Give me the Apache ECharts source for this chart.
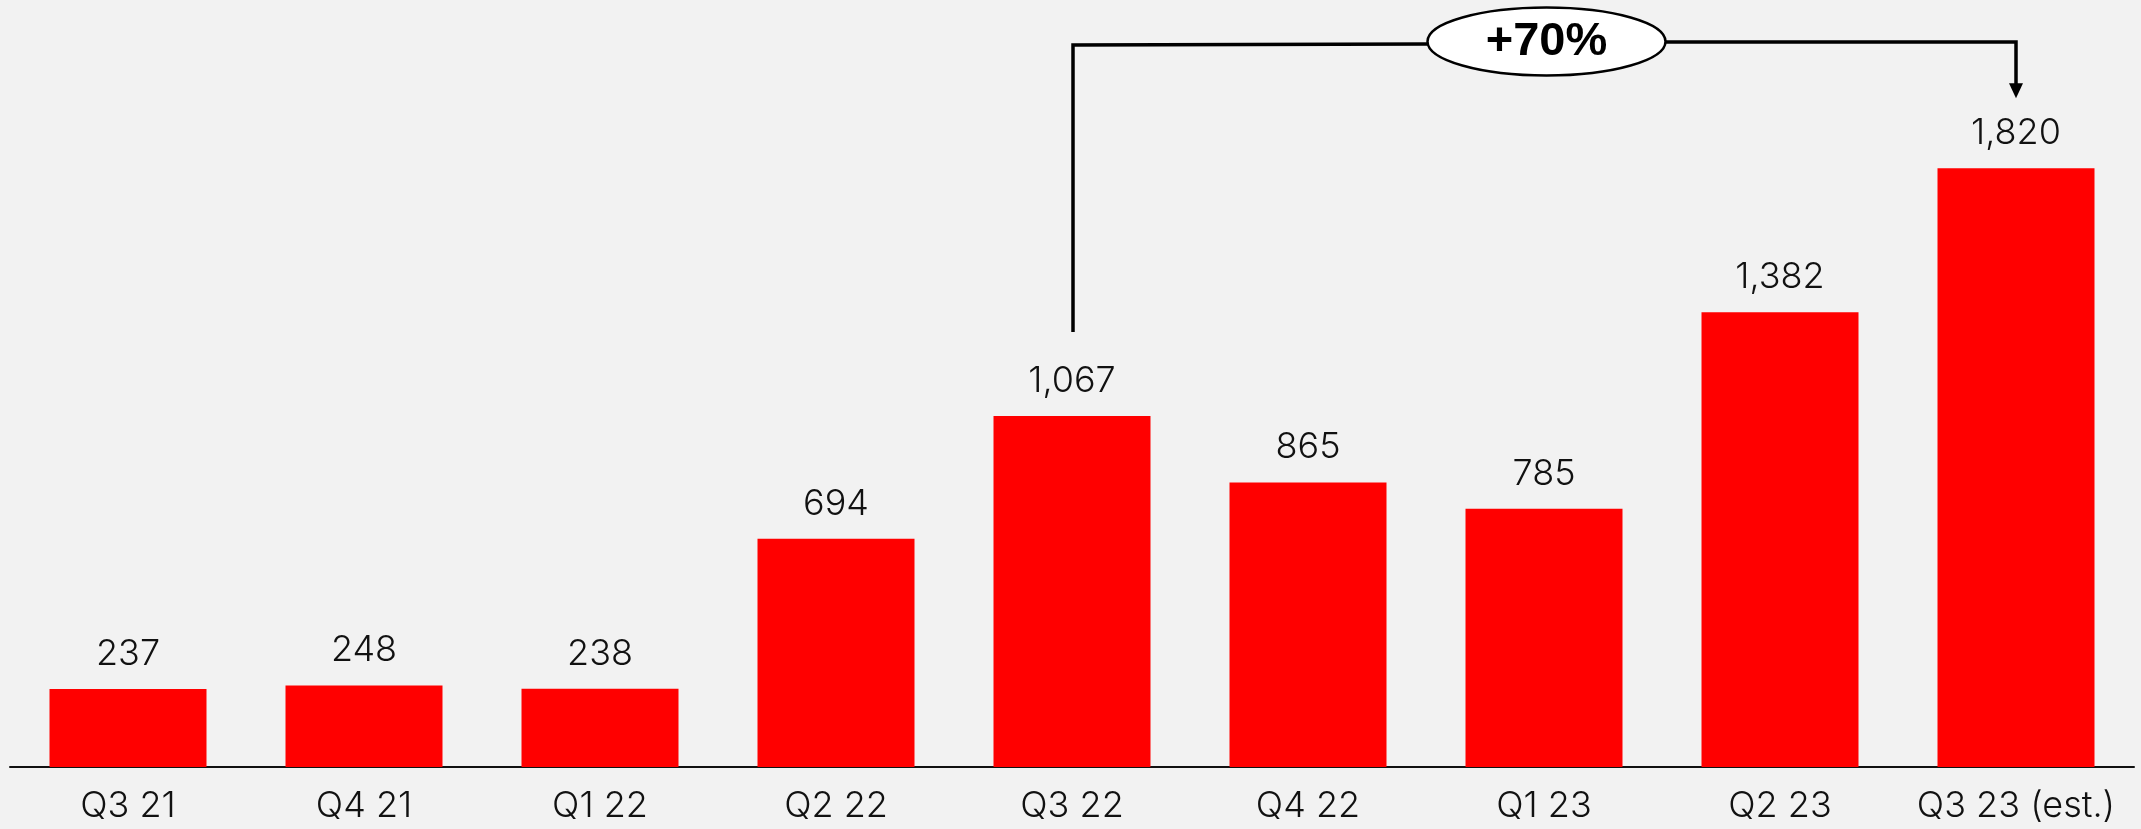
<!DOCTYPE html>
<html>
<head>
<meta charset="utf-8">
<script src="https://cdn.jsdelivr.net/npm/echarts@6/dist/echarts.min.js"></script>
<style>
  html, body { margin: 0; padding: 0; background: #f2f2f2; }
  #chart { width: 2141px; height: 829px; }
</style>
</head>
<body>
<div id="chart"></div>
<script>
// Quarterly values (thousands), last quarter is an estimate
const quarters = ['Q3 21', 'Q4 21', 'Q1 22', 'Q2 22', 'Q3 22', 'Q4 22', 'Q1 23', 'Q2 23', 'Q3 23 (est.)'];
const values = [237, 248, 238, 694, 1067, 865, 785, 1382, 1820];
// Growth callout: from Q3 22 to Q3 23
const growthFrom = 'Q3 22';
const growthTo = 'Q3 23 (est.)';
const growthText = '+70%';

const chart = echarts.init(document.getElementById('chart'), null, { renderer: 'canvas' });

const fmt = v => v.toLocaleString('en-US');

chart.setOption({
  backgroundColor: '#f2f2f2',
  animation: false,
  grid: { left: 10, right: 7, top: 109, bottom: 62, containLabel: false },
  xAxis: {
    type: 'category',
    data: quarters,
    axisLine: { show: true, lineStyle: { color: '#111', width: 2 } },
    axisTick: { show: false },
    axisLabel: {
      interval: 0,
      color: '#111',
      fontFamily: 'Inter',
      fontWeight: 300,
      fontSize: 36,
      margin: 21
    }
  },
  yAxis: {
    type: 'value',
    min: 0,
    max: 2000,
    show: false,
    splitLine: { show: false }
  },
  series: [{
    type: 'bar',
    data: values,
    barWidth: 157,
    itemStyle: { color: '#ff0000' },
    label: {
      show: true,
      position: 'top',
      distance: 17,
      color: '#111',
      fontFamily: 'Inter',
      fontWeight: 300,
      fontSize: 36,
      formatter: p => fmt(p.value)
    }
  }]
});

// Bracket callout linking the two compared bars
const iFrom = quarters.indexOf(growthFrom);
const iTo = quarters.indexOf(growthTo);
const pFrom = chart.convertToPixel({ gridIndex: 0 }, [iFrom, values[iFrom]]);
const pTo = chart.convertToPixel({ gridIndex: 0 }, [iTo, values[iTo]]);

const yLineL = 45;
const yLineR = 42;
const xL = pFrom[0] + 1;
const xR = pTo[0];
const leftBottom = pFrom[1] - 84;
const arrowTip = pTo[1] - 70;
const cx = (xL + xR) / 2 + 2;
const cy = 41.5;
const rx = 119, ry = 34;

chart.setOption({
  graphic: [
    {
      type: 'polyline',
      shape: { points: [[xL, leftBottom], [xL, yLineL], [cx - rx, yLineL - 1]] },
      style: { stroke: '#000', lineWidth: 3.5, fill: null }
    },
    {
      type: 'polyline',
      shape: { points: [[cx + rx, yLineR], [xR, yLineR], [xR, arrowTip - 12]] },
      style: { stroke: '#000', lineWidth: 3.5, fill: null }
    },
    {
      type: 'polygon',
      shape: { points: [[xR - 7, arrowTip - 15], [xR + 7, arrowTip - 15], [xR, arrowTip]] },
      style: { fill: '#000' }
    },
    {
      type: 'ellipse',
      shape: { cx: cx, cy: cy, rx: rx, ry: ry },
      style: { fill: '#ffffff', stroke: '#000', lineWidth: 2.5 }
    },
    {
      type: 'text',
      x: cx,
      y: cy + 1,
      style: {
        text: growthText,
        fill: '#000',
        font: 'bold 47px "Liberation Sans", Arial, sans-serif',
        align: 'center',
        verticalAlign: 'middle'
      }
    }
  ]
});
</script>
</body>
</html>
